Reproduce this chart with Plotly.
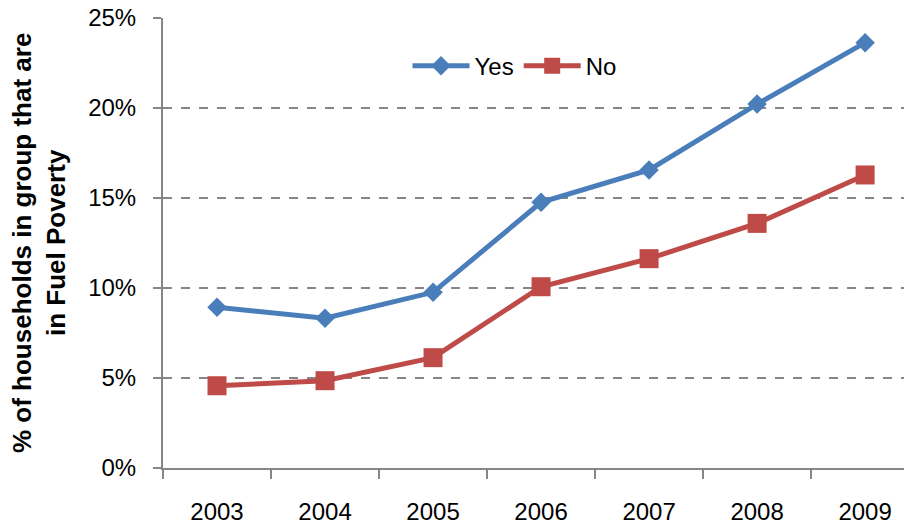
import plotly.graph_objects as go

years = ["2003", "2004", "2005", "2006", "2007", "2008", "2009"]
yes_vals = [8.93, 8.32, 9.76, 14.76, 16.56, 20.22, 23.63]
no_vals = [4.57, 4.85, 6.13, 10.07, 11.63, 13.59, 16.28]
y_ticks = [0, 5, 10, 15, 20, 25]
y_tick_labels = ["0%", "5%", "10%", "15%", "20%", "25%"]
y_title = "<b>% of households in group that are<br>in Fuel Poverty</b>"

FONT = "Liberation Sans, Arial, sans-serif"
BLUE = "#4A7EBB"
RED = "#BE4B48"
GRAY = "#868686"

fig = go.Figure()
fig.add_trace(go.Scatter(
    x=years, y=yes_vals, name="Yes", mode="lines+markers",
    line=dict(color=BLUE, width=5),
    marker=dict(symbol="diamond", size=15, color=BLUE),
))
fig.add_trace(go.Scatter(
    x=years, y=no_vals, name="No", mode="lines+markers",
    line=dict(color=RED, width=5),
    marker=dict(symbol="square", size=19, color=RED),
))

fig.add_annotation(
    text=y_title, xref="paper", yref="paper", x=0, y=0.5,
    xanchor="center", yanchor="middle", xshift=-124, textangle=-90,
    showarrow=False, font=dict(size=26, color="black", family=FONT),
)

fig.update_layout(
    width=904, height=527,
    margin=dict(l=163, r=0, t=18, b=59),
    paper_bgcolor="white", plot_bgcolor="white",
    font=dict(family=FONT, size=24, color="black"),
    showlegend=True,
    legend=dict(
        orientation="h", x=0.33, y=0.893, xanchor="left", yanchor="middle",
        font=dict(size=24, color="black"), bgcolor="rgba(0,0,0,0)",
        itemwidth=57, tracegroupgap=0,
    ),
    xaxis=dict(
        type="category", range=[-0.5, 6.36],
        showline=True, linecolor=GRAY, linewidth=2,
        ticks="outside", tickson="boundaries", ticklen=9, tickcolor=GRAY, tickwidth=2,
        showgrid=False, ticklabelstandoff=21, automargin=False,
        ticklabeloverflow="allow",
        tickfont=dict(size=24, color="black"),
    ),
    yaxis=dict(
        range=[0, 25], tickvals=y_ticks, ticktext=y_tick_labels,
        showline=True, linecolor=GRAY, linewidth=2,
        ticks="outside", ticklen=8, tickcolor=GRAY, tickwidth=2,
        showgrid=True, gridcolor=GRAY, gridwidth=1.5, griddash="dash",
        zeroline=False, ticklabelstandoff=12, ticklabeloverflow="allow",
        tickfont=dict(size=24, color="black"),
        automargin=False,
    ),
)

fig.write_html(
    "out.html",
    config={"displayModeBar": False},
    post_script="document.body.style.margin='0';document.body.style.overflow='hidden';",
)
